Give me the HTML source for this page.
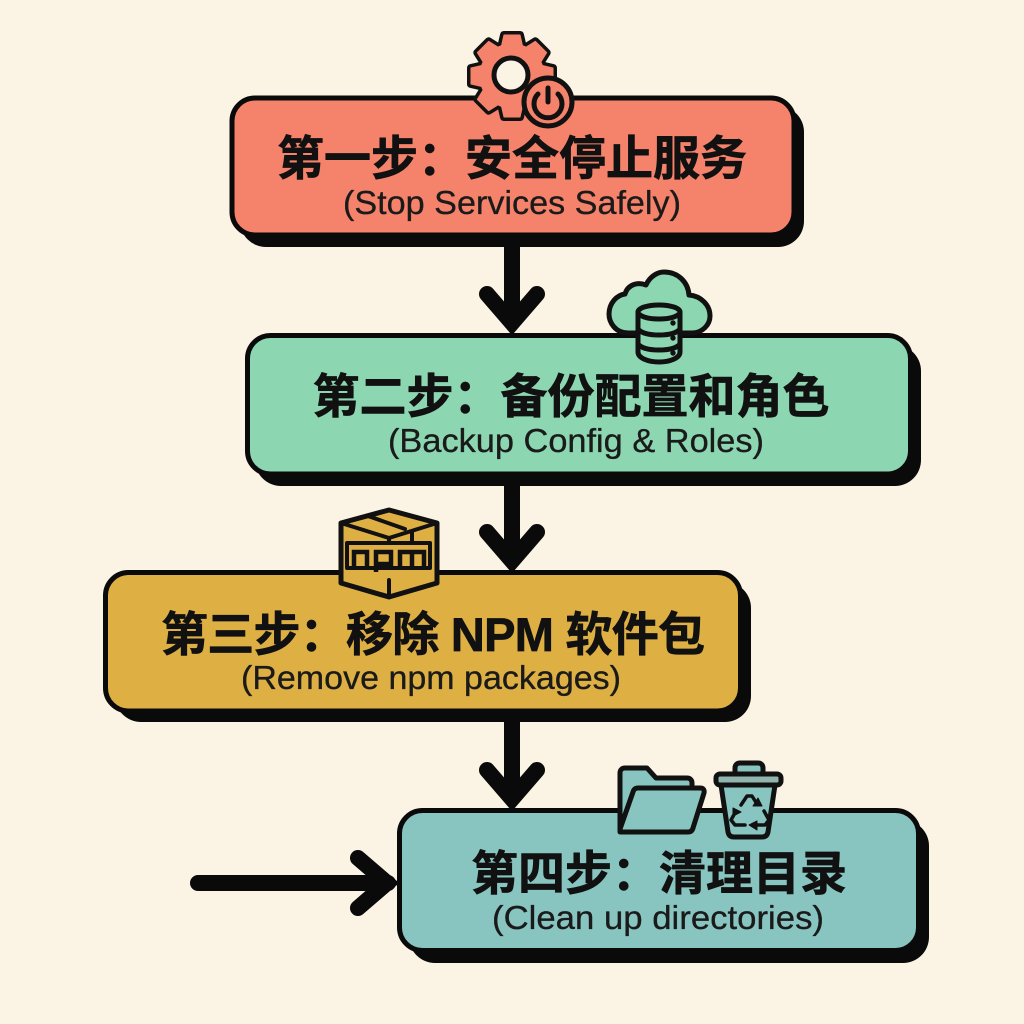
<!DOCTYPE html>
<html><head><meta charset="utf-8"><style>
html,body{margin:0;padding:0;background:#FBF4E4;width:1024px;height:1024px;overflow:hidden}
svg{display:block}
.t{font-family:"Liberation Sans","Noto Sans CJK SC",sans-serif;font-weight:700;font-size:47px;fill:#111;stroke:#111;stroke-width:.7;text-anchor:middle}
.s{font-family:"Liberation Sans",sans-serif;font-size:33px;fill:#1a1a1a;stroke:#1a1a1a;stroke-width:.3;text-anchor:middle}
.box{stroke:#0a0a0a;stroke-width:5}
.ln{fill:none;stroke:#0a0a0a;stroke-width:16;stroke-linecap:round;stroke-linejoin:miter}
.i{stroke:#111;stroke-width:5;stroke-linejoin:round;stroke-linecap:round}
</style></head><body>
<svg width="1024" height="1024" viewBox="0 0 1024 1024" xmlns="http://www.w3.org/2000/svg">
<defs>
<g id="gearshape">
<path d="M-11-28L-8-41H8L11-28Z"/>
<path d="M-11-28L-8-41H8L11-28Z" transform="rotate(45)"/>
<path d="M-11-28L-8-41H8L11-28Z" transform="rotate(90)"/>
<path d="M-11-28L-8-41H8L11-28Z" transform="rotate(135)"/>
<path d="M-11-28L-8-41H8L11-28Z" transform="rotate(180)"/>
<path d="M-11-28L-8-41H8L11-28Z" transform="rotate(225)"/>
<path d="M-11-28L-8-41H8L11-28Z" transform="rotate(270)"/>
<path d="M-11-28L-8-41H8L11-28Z" transform="rotate(315)"/>
<circle r="32"/>
</g>
</defs>
<rect width="1024" height="1024" fill="#FBF4E4"/>

<!-- connectors -->
<path d="M512 240V326" fill="none" stroke="#0a0a0a" stroke-width="16"/>
<path class="ln" d="M487 294L512 323L537 294"/>
<path d="M512 476V564" fill="none" stroke="#0a0a0a" stroke-width="16"/>
<path class="ln" d="M487 532L512 561L537 532"/>
<path d="M512 714V802" fill="none" stroke="#0a0a0a" stroke-width="16"/>
<path class="ln" d="M487 770L512 799L537 770"/>
<path d="M198 883H388" fill="none" stroke="#0a0a0a" stroke-width="16" stroke-linecap="round"/>
<path class="ln" d="M358 858L387 883L358 908"/>

<!-- box 1 -->
<rect x="240" y="106" width="564" height="141" rx="26" fill="#0a0a0a"/>
<rect class="box" x="232" y="98" width="562" height="137" rx="23" fill="#F5826A"/>
<text class="t" x="512" y="175">第一步：安全停止服务</text>
<text class="s" x="512" y="214" textLength="338" lengthAdjust="spacingAndGlyphs">(Stop Services Safely)</text>

<!-- box 2 -->
<rect x="255" y="345" width="666" height="141" rx="26" fill="#0a0a0a"/>
<rect class="box" x="247.5" y="335.5" width="663" height="138.5" rx="23" fill="#8CD7B1"/>
<text class="t" x="571" y="413">第二步：备份配置和角色</text>
<text class="s" x="576" y="452" textLength="376" lengthAdjust="spacingAndGlyphs">(Backup Config &amp; Roles)</text>

<!-- box 3 -->
<rect x="115" y="582" width="636" height="140" rx="26" fill="#0a0a0a"/>
<rect class="box" x="105.5" y="572.5" width="635" height="138.5" rx="23" fill="#DEB044"/>
<text class="t" x="433" y="651" textLength="544">第三步：移除 NPM 软件包</text>
<text class="s" x="431" y="689" textLength="380" lengthAdjust="spacingAndGlyphs">(Remove npm packages)</text>

<!-- box 4 -->
<rect x="409" y="820" width="520" height="143" rx="26" fill="#0a0a0a"/>
<rect class="box" x="399.5" y="810.5" width="519" height="140" rx="23" fill="#88C5C0"/>
<text class="t" x="659" y="890">第四步：清理目录</text>
<text class="s" x="658" y="929" textLength="332" lengthAdjust="spacingAndGlyphs">(Clean up directories)</text>

<!-- gear icon -->
<use href="#gearshape" x="512" y="76" fill="#111" stroke="#111" stroke-width="8" stroke-linejoin="round"/>
<use href="#gearshape" x="512" y="76" fill="#F5826A" stroke="#F5826A" stroke-width="1" stroke-linejoin="round"/>
<g class="i" fill="#F5826A">
<circle cx="511" cy="75" r="17" fill="#FBF4E4"/>
<circle cx="548" cy="102" r="24"/>
<path d="M538 94a14 14 0 1 0 20 0" fill="none"/>
<path d="M548 88v14" fill="none"/>
</g>

<!-- cloud + database -->
<g class="i" fill="#8CD7B1">
<path d="M628 333C615 333 609 322 609 314C609 303 617 295 625 294C628 284 638 282 646 285C650 276 658 272 664 272C678 272 688 282 689 295C701 296 710 305 710 316C710 325 702 333 692 333Z"/>
<path d="M638 312V352c0 6 10 10 21 10s21-4 21-10V312Z"/>
<ellipse cx="659" cy="312" rx="21" ry="7"/>
<path d="M638 329c3 4 11 6 21 6s18-2 21-6M638 344c3 4 11 6 21 6s18-2 21-6" fill="none"/>
<circle cx="673" cy="323" r="2.2" fill="#111" stroke-width="1"/><circle cx="673" cy="338" r="2.2" fill="#111" stroke-width="1"/><circle cx="673" cy="353" r="2.2" fill="#111" stroke-width="1"/>
</g>

<!-- npm box -->
<g class="i" fill="#DEB044">
<path d="M341 523L389 510L437 523V583L389 597L341 583Z"/>
<path d="M341 523L389 538L437 523M389 538V544M368 516L405 529M412 532V544M389 580V597" fill="none" stroke-width="4"/>
<rect x="347" y="543" width="83" height="25" stroke-width="4"/>
<path d="M354 566V552H367V566M376 572V552H391V564H376M400 566V552H424V566M412 552V566" fill="none" stroke-width="4.5" stroke-linejoin="miter" stroke-linecap="butt"/>
</g>

<!-- folder -->
<g class="i" fill="#88C5C0">
<path d="M620 832V773c0-3 2-5 5-5h22l9 10h31c3 0 5 2 5 5v8h-40v41z"/>
<path d="M620 829L633 792Q634 788 638 788H700Q705 788 704 793L693 828Q692 832 688 832H623Q620 832 620 829Z"/>
</g>

<!-- trash -->
<g class="i" fill="#88C5C0">
<path d="M735 775v-7c0-3 2-5 5-5h18c3 0 5 2 5 5v7"/>
<path d="M721 785L728 832Q729 837 734 837H762Q767 837 768 832L775 785Z"/>
<rect x="716" y="774" width="65" height="11" rx="4" fill="#8FB5AE"/>
<path d="M741 805L747 796H752L757 804M764 811L769 820L765 825H756M745 825H735L731 820L736 811" fill="none" stroke-width="3.5"/>
<path d="M753 806L762 806L758 798ZM757 821V830L749 825ZM733 808L741 812L733 816Z" fill="#111" stroke-width="1"/>
</g>
</svg>
</body></html>
